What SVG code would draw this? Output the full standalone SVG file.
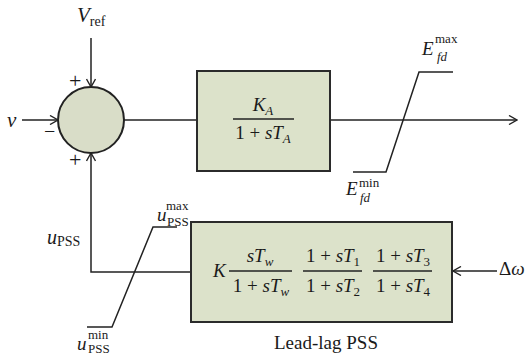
<svg xmlns="http://www.w3.org/2000/svg" width="527" height="355" viewBox="0 0 527 355" font-family="'Liberation Serif', 'Times New Roman', 'DejaVu Serif', serif">
<defs>
<style>
.ln{fill:none;stroke:#222;stroke-width:1.5}
.bx{fill:#dce2ca;stroke:#2b2b2b;stroke-width:2}
.t{font-family:'Liberation Serif','Times New Roman','DejaVu Serif',serif;fill:#1a1a1a}
.i{font-style:italic}
.m{font-size:19px}
.s{font-size:13px}
</style>
<marker id="ah" viewBox="0 0 10 10" refX="9" refY="5" markerWidth="10" markerHeight="10" markerUnits="userSpaceOnUse" orient="auto">
<path d="M1,0.5 L9,5 L1,9.5" fill="none" stroke="#222" stroke-width="1.4"/>
</marker>
</defs>
<rect width="527" height="355" fill="#fff"/>
<g id="connectors">
<line class="ln" x1="91" y1="38" x2="91" y2="87" marker-end="url(#ah)"/>
<line class="ln" x1="22" y1="120" x2="58" y2="120" marker-end="url(#ah)"/>
<line class="ln" x1="124" y1="120" x2="197" y2="120"/>
<line class="ln" x1="330" y1="120" x2="517" y2="120" marker-end="url(#ah)"/>
<polyline class="ln" points="191,272 91,272 91,153" marker-end="url(#ah)"/>
<line class="ln" x1="497" y1="271" x2="453" y2="271" marker-end="url(#ah)"/>
</g>
<g id="sum">
<circle cx="91" cy="120" r="33" fill="#d9ddc8" stroke="#222" stroke-width="2"/>
<text class="t" x="69" y="88" font-size="22">+</text>
<text class="t" x="44" y="138" font-size="20">−</text>
<text class="t" x="69" y="167" font-size="22">+</text>
</g>
<g id="vref">
<text class="t" x="77" y="22"><tspan class="i" font-size="21">V</tspan><tspan font-size="14" dy="4">ref</tspan></text>
</g>
<g id="v-in">
<text class="t i" x="7" y="127" font-size="21">ν</text>
</g>
<g id="exciter">
<rect class="bx" x="197" y="71" width="133" height="100"/>
<text class="t m" x="263" y="111" text-anchor="middle"><tspan class="i">K</tspan><tspan class="i s" dy="4">A</tspan></text>
<line class="ln" x1="233" y1="119" x2="294" y2="119"/>
<text class="t m" x="263" y="139" text-anchor="middle">1 + <tspan class="i">sT</tspan><tspan class="i s" dy="4">A</tspan></text>
</g>
<g id="efd-limiter">
<polyline class="ln" points="353,172 386,172 419,72 453,72"/>
<text class="t m i" x="422" y="55">E</text>
<text class="t s" x="435" y="43">max</text>
<text class="t s i" x="437" y="61">fd</text>
<text class="t m i" x="346" y="195">E</text>
<text class="t s" x="359" y="187">min</text>
<text class="t s i" x="360" y="202">fd</text>
</g>
<g id="pss">
<rect class="bx" x="191" y="222" width="261" height="100"/>
<text class="t m i" x="213" y="277">K</text>
<text class="t m" x="260" y="262" text-anchor="middle"><tspan class="i">sT</tspan><tspan class="i s" dy="4">w</tspan></text>
<line class="ln" x1="229" y1="271" x2="292" y2="271"/>
<text class="t m" x="261" y="292" text-anchor="middle">1 + <tspan class="i">sT</tspan><tspan class="i s" dy="4">w</tspan></text>
<text class="t m" x="333" y="262" text-anchor="middle">1 + <tspan class="i">sT</tspan><tspan class="s" dy="4">1</tspan></text>
<line class="ln" x1="303" y1="271" x2="362" y2="271"/>
<text class="t m" x="333" y="292" text-anchor="middle">1 + <tspan class="i">sT</tspan><tspan class="s" dy="4">2</tspan></text>
<text class="t m" x="403" y="262" text-anchor="middle">1 + <tspan class="i">sT</tspan><tspan class="s" dy="4">3</tspan></text>
<line class="ln" x1="373" y1="271" x2="432" y2="271"/>
<text class="t m" x="403" y="292" text-anchor="middle">1 + <tspan class="i">sT</tspan><tspan class="s" dy="4">4</tspan></text>
<text class="t" x="326" y="349" font-size="19" text-anchor="middle">Lead-lag PSS</text>
</g>
<g id="dw">
<text class="t m" x="499" y="275">Δ<tspan class="i">ω</tspan></text>
</g>
<g id="upss-limiter">
<polyline class="ln" points="87,327 112,327 153,227 177,227"/>
<text class="t" x="47" y="244"><tspan class="i" font-size="20">u</tspan><tspan font-size="14" dy="2">PSS</tspan></text>
<text class="t m i" x="157" y="221">u</text>
<text class="t s" x="166" y="210">max</text>
<text class="t s" x="167" y="226">PSS</text>
<text class="t m i" x="77" y="350">u</text>
<text class="t s" x="88" y="339">min</text>
<text class="t s" x="88" y="353">PSS</text>
</g>
</svg>
